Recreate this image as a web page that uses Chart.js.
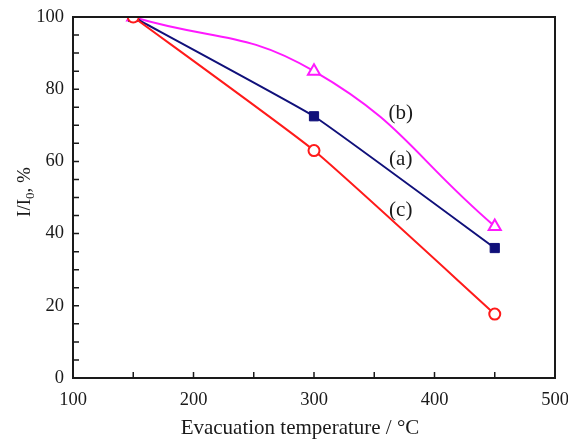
<!DOCTYPE html>
<html>
<head>
<meta charset="utf-8">
<script src="https://cdn.jsdelivr.net/npm/chart.js@4/dist/chart.umd.min.js"></script>
<style>
  html, body { margin: 0; padding: 0; background: #fff; }
  #wrap { width: 568px; height: 439px; }
</style>
</head>
<body>
<div id="wrap"><canvas id="chart" width="568" height="439"></canvas></div>
<script>
let temps = [150, 300, 450];
let series_a = [100, 72.5, 36];
let series_b = [100, 85, 42];
let series_c = [100, 63, 17.7];
let curve_labels = [
  { text: "(a)", x: 372, y: 60.4 },
  { text: "(b)", x: 372, y: 73.4 },
  { text: "(c)", x: 372, y: 46.3 },
];
let x_ticks = [100, 200, 300, 400, 500];
let y_ticks = [0, 20, 40, 60, 80, 100];

let font_family = "'Liberation Serif', 'DejaVu Serif', serif";
let ink = "#1a1a1a";

function toPoints(values) {
  let pts = [];
  for (let i = 0; i < temps.length; i++) {
    pts.push({ x: temps[i], y: values[i] });
  }
  return pts;
}

// frame, inward ticks, axis titles and the (a)/(b)/(c) labels
let decorations = {
  id: "decorations",
  afterDraw(chart) {
    let ctx = chart.ctx;
    let area = chart.chartArea;
    let xs = chart.scales.x;
    let ys = chart.scales.y;
    ctx.save();
    ctx.strokeStyle = ink;
    ctx.lineWidth = 2;
    ctx.strokeRect(area.left, area.top, area.right - area.left, area.bottom - area.top);

    ctx.lineWidth = 1.5;
    ctx.beginPath();
    for (let v = 150; v < 500; v += 50) {
      let px = xs.getPixelForValue(v);
      ctx.moveTo(px, area.bottom);
      ctx.lineTo(px, area.bottom - 6);
    }
    for (let v = 5; v < 100; v += 5) {
      let py = ys.getPixelForValue(v);
      ctx.moveTo(area.left, py);
      ctx.lineTo(area.left + 6, py);
    }
    ctx.stroke();

    ctx.fillStyle = ink;
    ctx.font = "21px " + font_family;
    ctx.textAlign = "center";
    ctx.textBaseline = "middle";
    curve_labels.forEach((l) => {
      ctx.fillText(l.text, xs.getPixelForValue(l.x), ys.getPixelForValue(l.y));
    });

    // x axis title
    ctx.textBaseline = "alphabetic";
    ctx.fillText("Evacuation temperature / °C", 300, 434);

    // y axis title with subscript
    ctx.translate(24, 192);
    ctx.rotate(-Math.PI / 2);
    ctx.textAlign = "left";
    let p1 = "I/I";
    let p2 = "0";
    let p3 = ", %";
    ctx.font = "19px " + font_family;
    let w1 = ctx.measureText(p1).width;
    let w3 = ctx.measureText(p3).width;
    ctx.font = "13px " + font_family;
    let w2 = ctx.measureText(p2).width;
    let start = -(w1 + w2 + w3) / 2;
    ctx.font = "19px " + font_family;
    ctx.fillText(p1, start, 6);
    ctx.font = "13px " + font_family;
    ctx.fillText(p2, start + w1, 10);
    ctx.font = "19px " + font_family;
    ctx.fillText(p3, start + w1 + w2, 6);
    ctx.restore();
  },
};

let config = {
  type: "line",
  data: {
    datasets: [
      {
        label: "(c)",
        data: toPoints(series_c),
        borderColor: "#ff1a1a",
        backgroundColor: "#ffffff",
        borderWidth: 2,
        pointStyle: "circle",
        pointRadius: 5.5,
        pointBorderWidth: 2,
        tension: 0.15,
        order: 0,
      },
      {
        label: "(a)",
        data: toPoints(series_a),
        borderColor: "#10107a",
        backgroundColor: "#10107a",
        borderWidth: 2,
        pointStyle: "rect",
        pointRadius: 6.5,
        pointBorderWidth: 1,
        tension: 0.1,
        order: 1,
      },
      {
        label: "(b)",
        data: toPoints(series_b),
        borderColor: "#ff19ff",
        backgroundColor: "#ffffff",
        borderWidth: 2,
        pointStyle: "triangle",
        pointRadius: 7,
        pointBorderWidth: 2,
        tension: 0.45,
        order: 2,
      },
    ],
  },
  options: {
    responsive: false,
    animation: false,
    layout: { padding: { top: 17, right: 13, left: 0, bottom: 0 } },
    plugins: {
      legend: { display: false },
      tooltip: { enabled: false },
    },
    scales: {
      x: {
        type: "linear",
        min: 100,
        max: 500,
        afterBuildTicks: (scale) => {
          scale.ticks = x_ticks.map((v) => ({ value: v }));
        },
        afterFit: (scale) => {
          scale.height = 61;
          scale.paddingRight = 0;
          scale.paddingLeft = 0;
        },
        grid: { display: false, drawTicks: false },
        border: { display: false },
        ticks: {
          color: ink,
          font: { family: font_family, size: 18.5 },
          padding: 11,
          maxRotation: 0,
        },
      },
      y: {
        type: "linear",
        min: 0,
        max: 100,
        afterBuildTicks: (scale) => {
          scale.ticks = y_ticks.map((v) => ({ value: v }));
        },
        afterFit: (scale) => {
          scale.width = 73;
          scale.paddingTop = 0;
          scale.paddingBottom = 0;
        },
        grid: { display: false, drawTicks: false },
        border: { display: false },
        ticks: {
          color: ink,
          font: { family: font_family, size: 18.5 },
          padding: 9,
        },
      },
    },
  },
  plugins: [decorations],
};

let chart = new Chart(document.getElementById("chart"), config);
</script>
</body>
</html>
